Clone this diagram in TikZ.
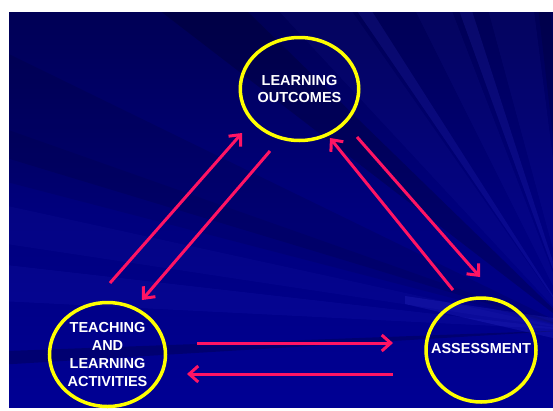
\documentclass[tikz,border=0pt]{standalone}
\usepackage{fontspec}
\setmainfont{Liberation Sans}
\usetikzlibrary{shapes.geometric,arrows.meta}
\definecolor{bgdark}{RGB}{0,0,85}
\definecolor{bgmain}{RGB}{0,0,148}
\definecolor{ring}{RGB}{255,255,0}
\definecolor{arrowpink}{RGB}{255,20,100}
\definecolor{streaklight}{RGB}{80,80,255}
\begin{document}
\begin{tikzpicture}[x=1pt,y=-1pt,
  topic/.style={ellipse, draw=ring, line width=3.5pt, inner sep=0pt, align=center,
    text=white, font=\fontsize{14.5}{17.7}\selectfont\bfseries},
  flow/.style={draw=arrowpink, line width=3pt, -{Straight Barb[length=9pt,width=16pt]}},
  darkray/.style={fill=black, fill opacity=#1},
  lightray/.style={fill=streaklight, fill opacity=#1}
]
\useasboundingbox (0,0) rectangle (553,410);
\fill[white] (0,0) rectangle (553,410);
% background
\begin{scope}
  \clip (9,12) rectangle (553,407);
  \shade[top color=bgdark, bottom color=bgmain, middle color={rgb,255:red,0;green,0;blue,125}] (9,12) rectangle (553,407);
  \coordinate (F) at (575,330);
  \fill[darkray=0.18] (F) -- (120,-20) -- (215,-20) -- cycle;
  \fill[darkray=0.10] (F) -- (-20,40) -- (-20,150) -- cycle;
  \fill[lightray=0.05] (F) -- (250,-20) -- (330,-20) -- cycle;
  \fill[lightray=0.12] (F) -- (336,-20) -- (352,-20) -- cycle;
  \fill[lightray=0.06] (F) -- (400,-20) -- (440,-20) -- cycle;
  \fill[lightray=0.12] (F) -- (448,-20) -- (462,-20) -- cycle;
  \fill[lightray=0.06] (F) -- (480,-20) -- (530,-20) -- cycle;
  \fill[darkray=0.12] (F) -- (535,-20) -- (548,-20) -- cycle;
  \fill[lightray=0.05] (F) -- (-20,200) -- (-20,240) -- cycle;
  \fill[lightray=0.07] (F) -- (-20,262) -- (-20,300) -- cycle;
  \fill[darkray=0.20] (F) -- (-20,352) -- (-20,366) -- cycle;
  \fill[lightray=0.15] (405,296) -- (553,318) -- (553,338) -- (405,304) -- cycle;
  \fill[darkray=0.08] (F) -- (-20,120) -- (-20,175) -- cycle;
\end{scope}
% circles
\node[topic, minimum width=113pt, minimum height=103pt] (lo) at (299.5,89) {LEARNING\\OUTCOMES};
\node[topic, minimum width=116pt, minimum height=104pt, inner xsep=-10pt] (tla) at (107.5,354.5) {TEACHING\\AND\\LEARNING\\ACTIVITIES};
\node[topic, minimum width=110pt, minimum height=104pt, inner xsep=-25pt] (as) at (481,350) {\raisebox{3.5pt}{ASSESSMENT}};
% arrow ends
\coordinate (a1s) at (110,283); \coordinate (a1e) at (242,133);
\coordinate (a2s) at (270,151); \coordinate (a2e) at (142,300);
\coordinate (a3s) at (357,137); \coordinate (a3e) at (480,277);
\coordinate (a4s) at (453,290); \coordinate (a4e) at (330,138);
\coordinate (a5s) at (197,343); \coordinate (a5e) at (393,343);
\coordinate (a6s) at (393,374); \coordinate (a6e) at (187,374);
\draw[flow] (a1s) -- (a1e);
\draw[flow] (a2s) -- (a2e);
\draw[flow] (a3s) -- (a3e);
\draw[flow] (a4s) -- (a4e);
\draw[flow] (a5s) -- (a5e);
\draw[flow] (a6s) -- (a6e);
\end{tikzpicture}
\end{document}
